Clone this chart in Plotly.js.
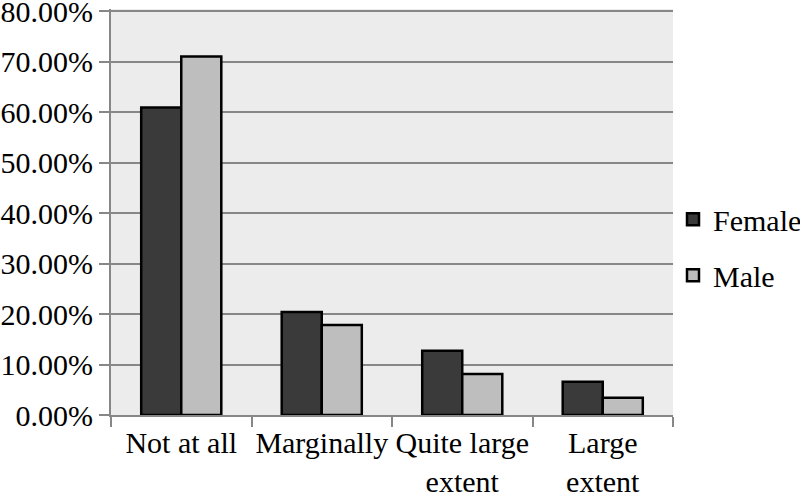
<!DOCTYPE html>
<html>
<head>
<meta charset="utf-8">
<script src="https://cdn.plot.ly/plotly-3.0.1.min.js"></script>
<style>
  html, body { margin: 0; padding: 0; background: #fff; }
  #plot { width: 800px; height: 495px; }
</style>
</head>
<body>
<div id="plot"></div>
<script>
var categories = ['Not at all', 'Marginally', 'Quite large<br>extent', 'Large<br>extent'];
var female = [0.609, 0.204, 0.127, 0.066];
var male = [0.710, 0.178, 0.081, 0.034];
var yTicks = [0, 0.1, 0.2, 0.3, 0.4, 0.5, 0.6, 0.7, 0.8];
var yTickText = ['0.00%', '10.00%', '20.00%', '30.00%', '40.00%', '50.00%', '60.00%', '70.00%', '80.00%'];

var serif = 'Liberation Serif';
var txt = { family: serif, size: 30, color: '#000' };

var trace1 = {
  x: categories,
  y: female,
  name: 'Female',
  type: 'bar',
  legendgroup: 'f',
  marker: { color: '#3a3a3a', line: { color: '#000', width: 2.5 } },
  hoverinfo: 'none'
};

var trace2 = {
  x: categories,
  y: male,
  name: 'Male',
  type: 'bar',
  legendgroup: 'm',
  marker: { color: '#bebebe', line: { color: '#000', width: 2.5 } },
  hoverinfo: 'none'
};

var data = [trace1, trace2];

var layout = {
  width: 800,
  height: 495,
  barmode: 'group',
  bargap: 0.43,
  bargroupgap: 0,
  paper_bgcolor: '#ffffff',
  plot_bgcolor: '#ececec',
  margin: { l: 111, r: 127, t: 9, b: 80, autoexpand: false },
  font: txt,
  xaxis: {
    tickson: 'boundaries',
    ticks: 'outside',
    ticklen: 10,
    tickwidth: 2,
    tickcolor: '#878787',
    showline: true,
    linecolor: '#878787',
    linewidth: 2,
    showgrid: false,
    tickangle: 0,
    tickfont: txt,
    fixedrange: true
  },
  yaxis: {
    range: [0, 0.804],
    tickmode: 'array',
    tickvals: yTicks,
    ticktext: yTickText,
    ticklabeloverflow: 'allow',
    ticks: 'outside',
    ticklen: 10,
    tickwidth: 2,
    tickcolor: '#878787',
    showline: true,
    linecolor: '#878787',
    linewidth: 2,
    showgrid: true,
    gridcolor: '#878787',
    gridwidth: 2,
    zeroline: false,
    tickfont: txt,
    fixedrange: true
  },
  legend: {
    x: 1.0,
    xanchor: 'left',
    y: 0.413,
    yanchor: 'middle',
    tracegroupgap: 14,
    font: txt,
    bgcolor: 'rgba(0,0,0,0)'
  },
  showlegend: true
};

Plotly.newPlot('plot', data, layout, { staticPlot: true });
</script>
</body>
</html>
